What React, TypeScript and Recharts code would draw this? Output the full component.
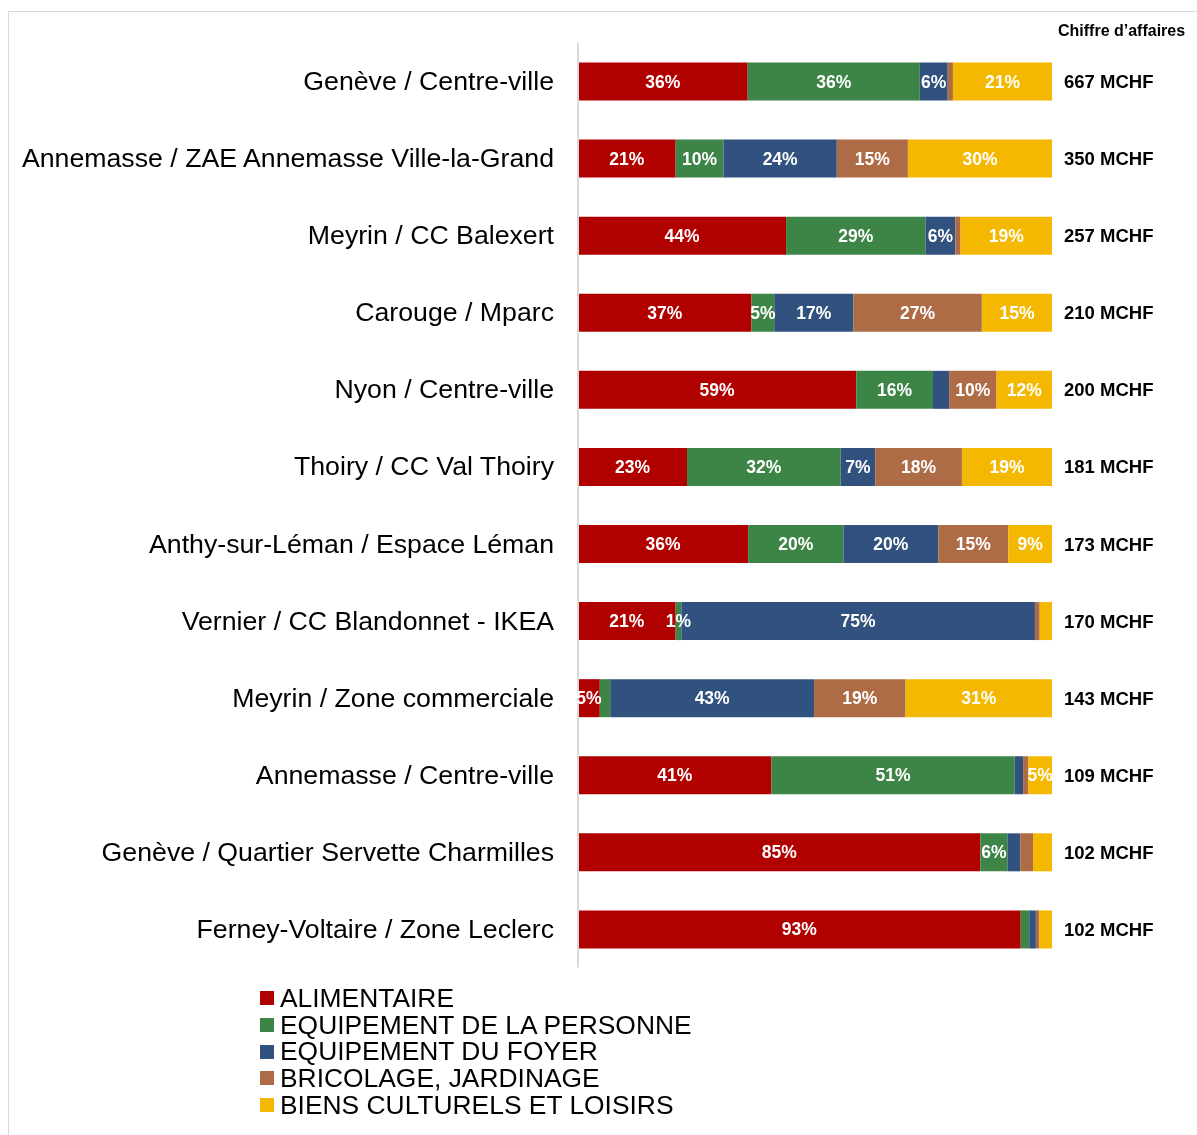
import { BarChart, Bar, XAxis, YAxis, Legend, LabelList } from "recharts";

const categories = [
  "Genève / Centre-ville",
  "Annemasse / ZAE Annemasse Ville-la-Grand",
  "Meyrin / CC Balexert",
  "Carouge / Mparc",
  "Nyon / Centre-ville",
  "Thoiry / CC Val Thoiry",
  "Anthy-sur-Léman / Espace Léman",
  "Vernier / CC Blandonnet - IKEA",
  "Meyrin / Zone commerciale",
  "Annemasse / Centre-ville",
  "Genève / Quartier Servette Charmilles",
  "Ferney-Voltaire / Zone Leclerc",
];

// parts in % per pole
const alimentaire = [35.8, 20.6, 43.9, 36.6, 58.7, 23.0, 35.9, 20.6, 4.6, 40.8, 84.9, 93.4];
const equipPersonne = [36.3, 10.1, 29.4, 4.8, 16.2, 32.4, 20.1, 1.2, 2.2, 51.3, 5.7, 1.8];
const equipFoyer = [5.9, 23.9, 6.3, 16.7, 3.4, 7.3, 20.0, 74.6, 43.0, 1.8, 2.7, 1.4];
const bricolage = [1.1, 15.0, 1.1, 27.1, 10.0, 18.3, 14.8, 1.0, 19.3, 1.1, 2.7, 0.7];
const loisirs = [20.9, 30.4, 19.3, 14.8, 11.7, 19.0, 9.2, 2.6, 30.9, 5.0, 4.0, 2.7];

// chiffre d'affaires, MCHF
const chiffreAffaires = [667, 350, 257, 210, 200, 181, 173, 170, 143, 109, 102, 102];

// small parts that still carry a label in the original
const forcedLabels = [{ row: 7, key: "equipPersonne" }];

const series = [
  { key: "alimentaire", name: "ALIMENTAIRE", color: "#B00000", values: alimentaire },
  { key: "equipPersonne", name: "EQUIPEMENT DE LA PERSONNE", color: "#3D8447", values: equipPersonne },
  { key: "equipFoyer", name: "EQUIPEMENT DU FOYER", color: "#31517E", values: equipFoyer },
  { key: "bricolage", name: "BRICOLAGE, JARDINAGE", color: "#AD6C46", values: bricolage },
  { key: "loisirs", name: "BIENS CULTURELS ET LOISIRS", color: "#F4B800", values: loisirs },
];

const data = categories.map((name, i) => {
  const row: any = { name, ca: chiffreAffaires[i], idx: i };
  series.forEach(s => (row[s.key] = s.values[i]));
  return row;
});

const FONT = "'Liberation Sans', Arial, sans-serif";

const CategoryTick = (props: any) => {
  const { x, y, payload } = props;
  return (
    <text x={x - 16} y={y} textAnchor="end" dominantBaseline="central" fontSize={26.7} fontFamily={FONT} fill="#000">
      {payload.value}
    </text>
  );
};

const makePctLabel = (key: string) => (props: any) => {
  const { x, y, width, height, value, index } = props;
  const forced = forcedLabels.some(f => f.row === index && f.key === key);
  if (value < 4.5 && !forced) return null;
  return (
    <text
      x={x + width / 2}
      y={y + height / 2}
      textAnchor="middle"
      dominantBaseline="central"
      fontSize={17.5}
      fontWeight="bold"
      fontFamily={FONT}
      fill="#fff"
    >
      {Math.round(value)}%
    </text>
  );
};

const CaLabel = (props: any) => {
  const { x, y, width, height, index } = props;
  return (
    <text
      x={x + width + 12}
      y={y + height / 2}
      dominantBaseline="central"
      fontSize={18.5}
      fontWeight="bold"
      fontFamily={FONT}
      fill="#000"
    >
      {chiffreAffaires[index]} MCHF
    </text>
  );
};

const LegendBox = () => (
  <div style={{ fontFamily: FONT, fontSize: 26.4, height: 134 }}>
    {series.map(s => (
      <div
        key={s.key}
        style={{ display: "flex", alignItems: "center", whiteSpace: "nowrap", height: 26.7, lineHeight: "26.7px" }}
      >
        <span style={{ width: 14, height: 14, background: s.color, marginRight: 6, display: "inline-block" }} />
        <span>{s.name}</span>
      </div>
    ))}
  </div>
);

export default function App() {
  return (
    <div style={{ position: "relative", width: 1189, height: 1115 }}>
      <div
        style={{
          position: "fixed",
          left: 8,
          top: 11,
          right: -2,
          bottom: -2,
          borderTop: "1px solid #d9d9d9",
          borderLeft: "1px solid #d9d9d9",
          pointerEvents: "none",
        }}
      />
      <div
        style={{
          position: "absolute",
          left: 1050,
          top: 14,
          fontFamily: FONT,
          fontWeight: "bold",
          fontSize: 16,
          whiteSpace: "nowrap",
        }}
      >
        Chiffre d’affaires
      </div>
      <BarChart
        width={1189}
        height={1115}
        data={data}
        layout="vertical"
        margin={{ top: 34.5, right: 145, bottom: 21.5, left: 0 }}
      >
        <XAxis type="number" domain={[0, 100]} hide />
        <YAxis
          type="category"
          dataKey="name"
          width={570}
          axisLine={{ stroke: "#d9d9d9", strokeWidth: 2 }}
          tickLine={false}
          tick={<CategoryTick />}
          interval={0}
        />
        <Legend
          verticalAlign="bottom"
          align="left"
          layout="horizontal"
          content={<LegendBox />}
          wrapperStyle={{ left: 252, bottom: 4, width: 600 }}
        />
        {series.map((s, i) => (
          <Bar
            key={s.key}
            dataKey={s.key}
            name={s.name}
            stackId="a"
            fill={s.color}
            barSize={38}
            isAnimationActive={false}
          >
            <LabelList dataKey={s.key} content={makePctLabel(s.key)} />
            {i === series.length - 1 && <LabelList dataKey="ca" content={<CaLabel />} />}
          </Bar>
        ))}
      </BarChart>
    </div>
  );
}
